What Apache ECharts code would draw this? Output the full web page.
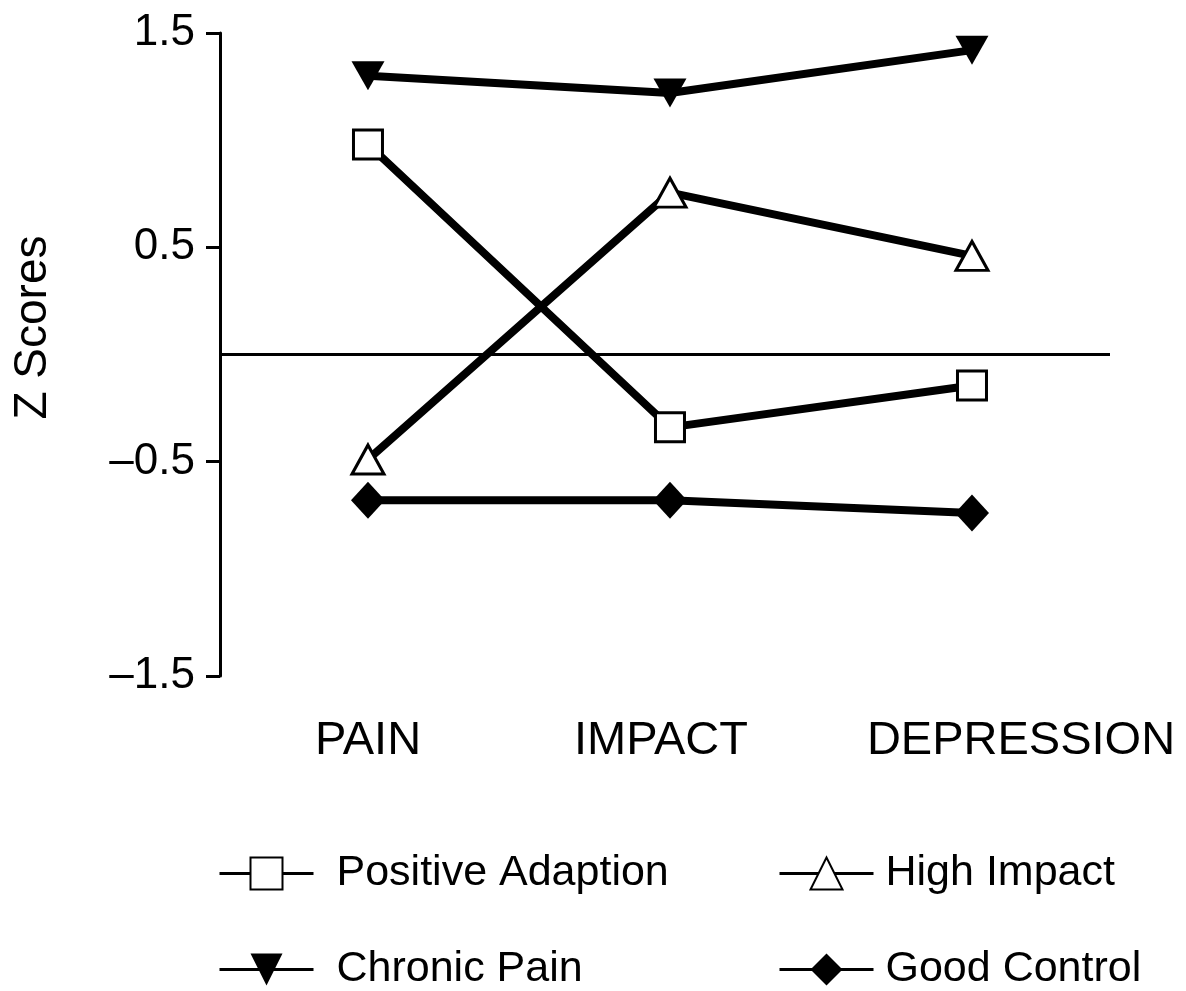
<!DOCTYPE html>
<html>
<head>
<meta charset="utf-8">
<title>Z Scores</title>
<script src="https://cdn.jsdelivr.net/npm/echarts@6/dist/echarts.min.js"></script>
<style>
  html, body { margin: 0; padding: 0; background: #fff; }
  #chart { width: 1186px; height: 991px; }
</style>
</head>
<body>
<div id="chart"></div>
<script>
// data
var categories = ['PAIN', 'IMPACT', 'DEPRESSION'];
var positiveAdaption = [0.98, -0.34, -0.145];
var highImpact = [-0.49, 0.755, 0.46];
var chronicPain = [1.30, 1.22, 1.42];
var goodControl = [-0.68, -0.68, -0.74];
var yTicks = [-1.5, -0.5, 0.5, 1.5];

var font = 'Liberation Sans';
var downTri = 'path://M0,0 L10,0 L5,10 Z';

function pairs(arr) {
  return arr.map(function (v, i) { return [i, v]; });
}

function lineSeries(name, data, symbol, size, filled) {
  return {
    name: name,
    type: 'line',
    data: pairs(data),
    symbol: symbol,
    symbolSize: size,
    symbolKeepAspect: true,
    showAllSymbol: true,
    lineStyle: { color: '#000', width: 8 },
    itemStyle: {
      color: filled ? '#000' : '#fff',
      borderColor: '#000',
      borderWidth: filled ? 0 : 3
    },
    emphasis: { disabled: true },
    z: 3
  };
}

var series = [
  lineSeries('Positive Adaption', positiveAdaption, 'rect', 29, false),
  lineSeries('High Impact', highImpact, 'triangle', [32, 29], false),
  lineSeries('Chronic Pain', chronicPain, downTri, [33, 29], true),
  lineSeries('Good Control', goodControl, 'diamond', [34, 37], true)
];

// zero reference line
series[0].markLine = {
  silent: true,
  symbol: 'none',
  label: { show: false },
  lineStyle: { color: '#000', width: 3, type: 'solid' },
  data: [{ yAxis: 0 }],
  z: 1
};

function legendAt(name, left, top, gap) {
  return {
    data: [name],
    left: left,
    top: top,
    padding: 0,
    orient: 'horizontal',
    itemWidth: 94,
    itemHeight: 40,
    itemGap: 0,
    lineStyle: { width: 3, color: '#000' },
    textStyle: { fontFamily: font, fontSize: 43, color: '#000', padding: [0, 0, 0, gap] },
    selectedMode: false
  };
}

var chart = echarts.init(document.getElementById('chart'));
var option = {
  backgroundColor: '#fff',
  animation: false,
  grid: { left: 220, right: 76, top: 33, bottom: 315, containLabel: false },
  legend: [
    legendAt('Positive Adaption', 218, 852, 18),
    legendAt('High Impact', 778, 852, 7),
    legendAt('Chronic Pain', 218, 948, 18),
    legendAt('Good Control', 778, 948, 7)
  ],
  xAxis: {
    type: 'value',
    min: -0.49,
    max: 2.457,
    axisLine: { show: false, onZero: false },
    axisTick: { show: false },
    splitLine: { show: false },
    axisLabel: {
      customValues: [0, 1, 2],
      fontFamily: font,
      fontSize: 47,
      color: '#000',
      margin: 42,
      formatter: function (v) {
        var i = Math.round(v);
        return '{c' + i + '|' + categories[i] + '}';
      },
      rich: {
        c0: { fontFamily: font, fontSize: 47, color: '#000' },
        c1: { fontFamily: font, fontSize: 47, color: '#000', padding: [0, 18, 0, 0] },
        c2: { fontFamily: font, fontSize: 47, color: '#000', padding: [0, 0, 0, 98] }
      }
    }
  },
  yAxis: {
    type: 'value',
    min: -1.5,
    max: 1.5,
    interval: 1,
    name: 'Z Scores',
    nameLocation: 'middle',
    nameGap: 164,
    nameRotate: 90,
    nameTextStyle: { fontFamily: font, fontSize: 46, color: '#000', padding: [0, 0, 0, 54] },
    axisLine: { show: true, onZero: false, lineStyle: { color: '#000', width: 3 } },
    axisTick: { show: true, length: 14, lineStyle: { color: '#000', width: 3 } },
    splitLine: { show: false },
    axisLabel: {
      fontFamily: font,
      fontSize: 44,
      color: '#000',
      margin: 25,
      formatter: function (v) {
        for (var i = 0; i < yTicks.length; i++) {
          if (Math.abs(v - yTicks[i]) < 1e-6) {
            return String(yTicks[i]).replace('-', '\u2013');
          }
        }
        return '';
      }
    }
  },
  series: series
};
chart.setOption(option);
</script>
</body>
</html>
